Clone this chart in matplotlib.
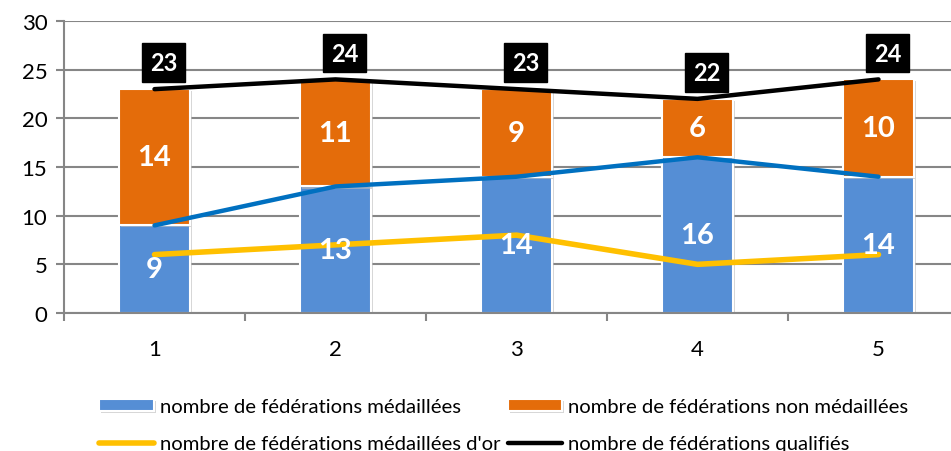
import matplotlib.pyplot as plt
import matplotlib.patheffects as pe
import numpy as np

plt.rcParams['font.family'] = ['Lato', 'DejaVu Sans']

categories = ['1', '2', '3', '4', '5']
medalled = [9, 13, 14, 16, 14]
non_medalled = [14, 11, 9, 6, 10]
gold = [6, 7, 8, 5, 6]
qualified = [23, 24, 23, 22, 24]

blue_bar = '#558ED5'
orange_bar = '#E46C0A'
blue_line = '#0070C0'
yellow_line = '#FFC000'
grid_grey = '#868686'

fig = plt.figure(figsize=(9.51, 4.52), dpi=100)
ax = fig.add_axes([64 / 951, 138 / 452, 905 / 951, 292 / 452])

x = np.arange(1, len(categories) + 1)
shadow = [pe.SimplePatchShadow(offset=(1.5, -1.5), shadow_rgbFace='#bbbbbb', alpha=0.6), pe.Normal()]
b1 = ax.bar(x, medalled, width=0.39, color=blue_bar, edgecolor='white', linewidth=1.5,
            label='nombre de fédérations médaillées', zorder=2, path_effects=shadow)
b2 = ax.bar(x, non_medalled, width=0.39, bottom=medalled, color=orange_bar, edgecolor='white',
            linewidth=1.5, label='nombre de fédérations non médaillées', zorder=2, path_effects=shadow)

ax.plot(x, medalled, color=blue_line, lw=3.2, zorder=3, solid_capstyle='round')
l_gold, = ax.plot(x, gold, color=yellow_line, lw=4, zorder=3, solid_capstyle='round',
                  label="nombre de fédérations médaillées d'or")
l_q, = ax.plot(x, qualified, color='black', lw=3.2, zorder=3, solid_capstyle='round',
               label='nombre de fédérations qualifiés')

for xi, m, n in zip(x, medalled, non_medalled):
    ax.text(xi, m / 2, str(m), ha='center', va='center', color='white',
            fontsize=21, fontweight='bold', zorder=4)
    ax.text(xi, m + n / 2, str(n), ha='center', va='center', color='white',
            fontsize=21, fontweight='bold', zorder=4)

for xi, q in zip(x, qualified):
    ax.annotate(str(q), (xi, q), xytext=(6.5, 19), textcoords='offset points',
                ha='center', va='center', color='white', fontsize=17, fontweight='bold',
                bbox=dict(boxstyle='square,pad=0.33', fc='black', ec='black'), zorder=5)

ax.set_xlim(0.5, 5.5)
ax.set_ylim(0, 30)
ax.set_yticks(range(0, 31, 5))
ax.set_xticks(x)
ax.set_xticklabels(categories)
ax.set_xticks(np.arange(0.5, 5.6, 1), minor=True)
ax.tick_params(axis='x', which='major', length=0, pad=19, labelsize=16)
ax.tick_params(axis='x', which='minor', length=6, width=1.5, color=grid_grey, direction='out')
ax.tick_params(axis='y', length=6, width=1.5, color=grid_grey, pad=6, labelsize=16)
ax.grid(axis='y', color=grid_grey, lw=1.5, zorder=0)
ax.set_axisbelow(True)
for s in ['top', 'right']:
    ax.spines[s].set_visible(False)
for s in ['left', 'bottom']:
    ax.spines[s].set_color(grid_grey)
    ax.spines[s].set_linewidth(1.5)

# legend: two columns, filled column by column
handles = [b1, l_gold, b2, l_q]
leg = fig.legend(handles, [h.get_label() for h in handles], ncol=2, loc='upper left',
                 bbox_to_anchor=(89 / 951, 1 - 389 / 452), frameon=False, fontsize=14.6,
                 borderpad=0, handlelength=2.7, handleheight=0.5, handletextpad=0.3,
                 columnspacing=0.35, labelspacing=1.0)

fig.savefig('out.png', dpi=100)
